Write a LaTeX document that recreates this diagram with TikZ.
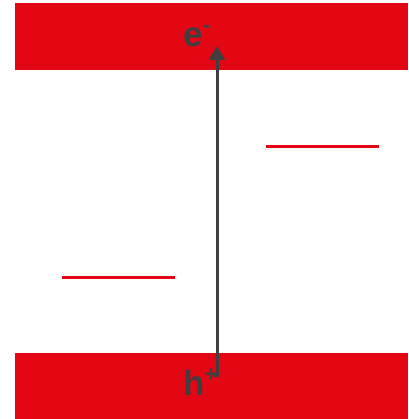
\documentclass[tikz,border=0pt]{standalone}
\usepackage{fontspec}
\setmainfont{Liberation Sans}
\usepackage{tikz}
\usetikzlibrary{arrows.meta,positioning}
\definecolor{band}{RGB}{227,6,19}
\definecolor{ink}{RGB}{64,62,64}
\tikzset{
  bandbox/.style={fill=band, draw=none, anchor=north west, inner sep=0pt,
    minimum width=393pt, minimum height=67pt},
  level/.style={draw=band, line width=3pt},
  carrier/.style={text=ink, font=\fontsize{35}{40}\selectfont\bfseries, inner sep=0pt, anchor=base west},
  jump/.style={draw=ink, line width=3pt, -{Triangle[length=14pt, width=16pt]}}
}
\begin{document}
\begin{tikzpicture}[x=1pt, y=-1pt]
  \useasboundingbox (0,0) rectangle (408,419);
  % conduction and valence bands
  \node[bandbox] (cband) at (15,3) {};
  \node[bandbox, minimum height=66pt] (vband) at (15,353) {};
  % trap levels
  \draw[level] (266,147) -- (379,147);
  \draw[level] (62,277) -- (175,277);
  % carriers
  \node[carrier] (elec) at (183,47) {e\raisebox{0.42em}{\fontsize{22}{22}\selectfont -}};
  \node[carrier] (hole) at (183,395) {h\raisebox{0.38em}{\fontsize{22}{22}\selectfont +}};
  % excitation
  \coordinate (hstart) at (213,375);
  \coordinate (etip) at (217,46);
  \draw[jump] (hstart) -- (hstart -| etip) -- (etip);
\end{tikzpicture}
\end{document}
